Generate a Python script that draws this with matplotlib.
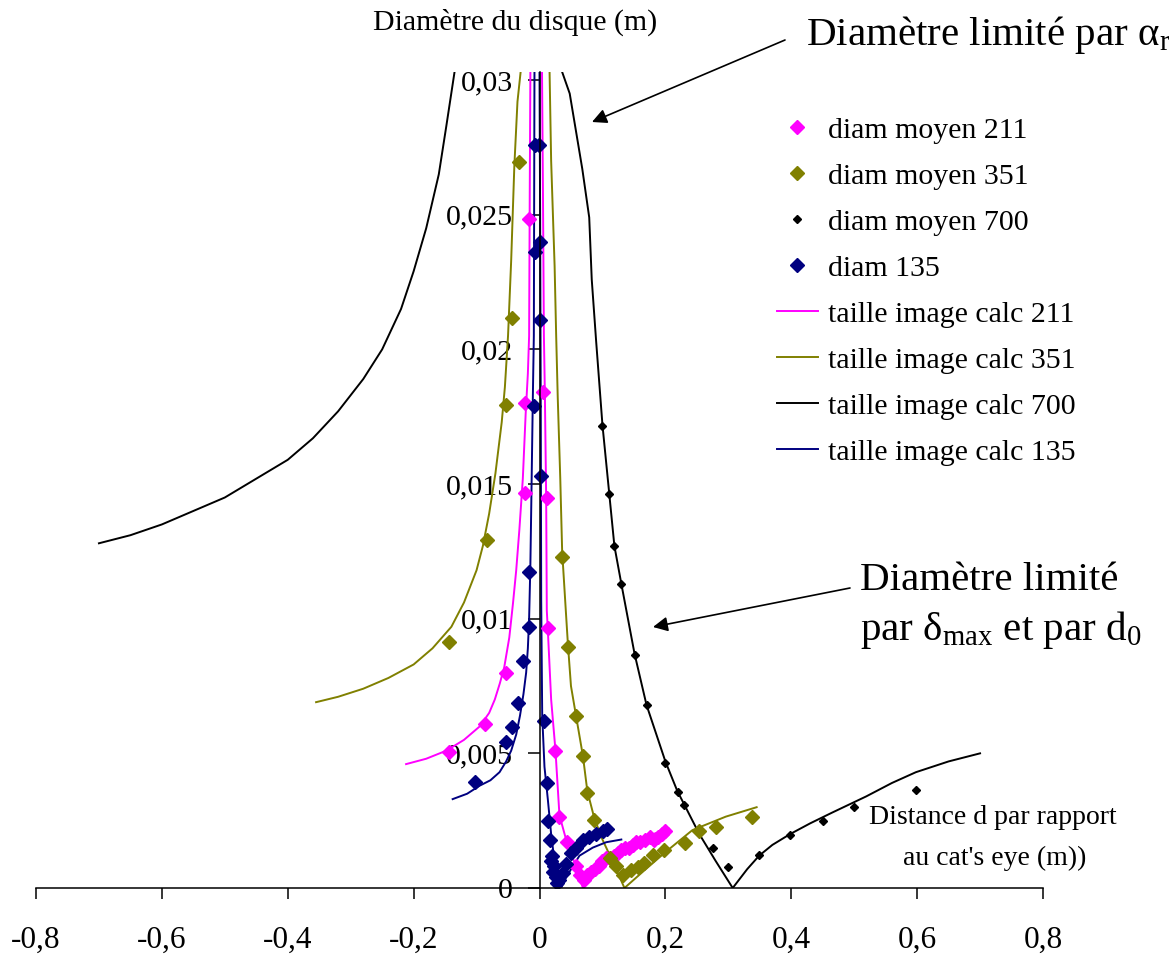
import matplotlib
matplotlib.use("Agg")
import matplotlib.pyplot as plt
import numpy as np

plt.rcParams['font.family'] = ['Liberation Serif', 'DejaVu Serif']
plt.rcParams['mathtext.fontset'] = 'custom'
plt.rcParams['mathtext.rm'] = 'Liberation Serif'
plt.rcParams['mathtext.it'] = 'Liberation Serif'
plt.rcParams['mathtext.default'] = 'regular'

# --- données ---
# courbes calculées (branche gauche / branche droite)
x_calc_211_g = [-0.212, -0.180, -0.148, -0.120, -0.095, -0.080, -0.071, -0.063, -0.056, -0.048, -0.042, -0.037, -0.032, -0.0265, -0.022, -0.0185, -0.0165, -0.0155, -0.0145]
y_calc_211_g = [0.0046, 0.0048, 0.0051, 0.0055, 0.0060, 0.0065, 0.0070, 0.0076, 0.0082, 0.0093, 0.0106, 0.0118, 0.0133, 0.0152, 0.0176, 0.0191, 0.0205, 0.0258, 0.0303]
x_calc_211_d = [0.0040, 0.0055, 0.0070, 0.0085, 0.0106, 0.0116, 0.0132, 0.0185, 0.0254, 0.0317, 0.0434, 0.058, 0.069, 0.079, 0.095, 0.116, 0.150, 0.180, 0.206]
y_calc_211_d = [0.0303, 0.0258, 0.0205, 0.0184, 0.0145, 0.0103, 0.0096, 0.0070, 0.0051, 0.0027, 0.0017, 0.0008, 0.0000, 0.00045, 0.0009, 0.0012, 0.0017, 0.0020, 0.0022]

x_calc_351_g = [-0.355, -0.32, -0.28, -0.24, -0.20, -0.17, -0.14, -0.12, -0.10, -0.09, -0.08, -0.07, -0.06, -0.055, -0.050, -0.045, -0.040, -0.035, -0.030]
y_calc_351_g = [0.0069, 0.0071, 0.0074, 0.0078, 0.0083, 0.0089, 0.0097, 0.0106, 0.0118, 0.0127, 0.0139, 0.0154, 0.0173, 0.0186, 0.0205, 0.0233, 0.0268, 0.0292, 0.0303]
x_calc_351_d = [0.016, 0.0185, 0.024, 0.0265, 0.029, 0.033, 0.036, 0.041, 0.045, 0.050, 0.058, 0.069, 0.076, 0.087, 0.100, 0.116, 0.135, 0.164, 0.201, 0.243, 0.296, 0.345]
y_calc_351_d = [0.0303, 0.0270, 0.0231, 0.0205, 0.0182, 0.0152, 0.0125, 0.0106, 0.0091, 0.0075, 0.0064, 0.0049, 0.0036, 0.0026, 0.0018, 0.0010, 0.0000, 0.0006, 0.00135, 0.00215, 0.00265, 0.0030]

x_calc_700_g = [-0.70, -0.65, -0.60, -0.55, -0.50, -0.45, -0.40, -0.36, -0.32, -0.28, -0.25, -0.22, -0.20, -0.18, -0.16, -0.148, -0.135]
y_calc_700_g = [0.0128, 0.0131, 0.0135, 0.0140, 0.0145, 0.0152, 0.0159, 0.0167, 0.0177, 0.0189, 0.0200, 0.0215, 0.0229, 0.0245, 0.0265, 0.0283, 0.0303]
x_calc_700_d = [0.036, 0.048, 0.068, 0.079, 0.083, 0.090, 0.100, 0.111, 0.119, 0.130, 0.151, 0.170, 0.200, 0.219, 0.230, 0.254, 0.280, 0.307,
                0.330, 0.349, 0.370, 0.398, 0.430, 0.465, 0.519, 0.560, 0.598, 0.650, 0.700]
y_calc_700_d = [0.0303, 0.0295, 0.0267, 0.0249, 0.0226, 0.0203, 0.0172, 0.0146, 0.0127, 0.0113, 0.0087, 0.0068, 0.0047, 0.0036, 0.0031, 0.0020, 0.0010, 0.0000,
                0.0007, 0.0012, 0.0016, 0.0020, 0.0024, 0.0028, 0.0034, 0.0039, 0.0043, 0.0047, 0.0050]

x_calc_135_g = [-0.138, -0.115, -0.095, -0.078, -0.0635, -0.053, -0.045, -0.037, -0.031, -0.0255, -0.0212, -0.0185, -0.0165, -0.0145, -0.0132, -0.0106, -0.009, -0.008]
y_calc_135_g = [0.0033, 0.0035, 0.0038, 0.0040, 0.0043, 0.0047, 0.0051, 0.0057, 0.0064, 0.0072, 0.0080, 0.0089, 0.0100, 0.0120, 0.0140, 0.0182, 0.0205, 0.0303]
x_calc_135_d = [0.000, 0.001, 0.002, 0.0027, 0.0043, 0.0079, 0.0132, 0.0185, 0.0238, 0.0344, 0.0423, 0.0635, 0.0847, 0.106, 0.130]
y_calc_135_d = [0.0303, 0.0250, 0.0180, 0.0107, 0.0064, 0.0045, 0.0033, 0.0020, 0.0010, 0.0000, 0.0004, 0.0012, 0.0015, 0.0017, 0.0018]

# mesures (diamètres moyens)
x_mes_211 = [-0.143, -0.0873, -0.054, -0.0238, -0.0238, -0.017, 0.0063, 0.0116, 0.0132, 0.0254, 0.0317, 0.0434,
             0.058, 0.064, 0.070, 0.076, 0.082, 0.088, 0.094, 0.100, 0.106, 0.112, 0.118, 0.124, 0.130, 0.136,
             0.142, 0.148, 0.154, 0.160, 0.168, 0.176, 0.182, 0.188, 0.195, 0.200]
y_mes_211 = [0.00506, 0.00609, 0.0080, 0.01468, 0.0180, 0.02486, 0.01843, 0.01447, 0.00964, 0.0051, 0.00265, 0.00172,
             0.0008, 0.0005, 0.0003, 0.0005, 0.0006, 0.0007, 0.0008, 0.0010, 0.0011, 0.0011, 0.0012, 0.0013, 0.0014, 0.0015,
             0.0015, 0.0016, 0.0017, 0.0017, 0.0018, 0.0019, 0.0018, 0.0019, 0.0020, 0.0021]

x_mes_351 = [-0.143, -0.083, -0.0529, -0.0434, -0.0333, 0.036, 0.045, 0.0582, 0.0688, 0.0757, 0.0873,
             0.112, 0.121, 0.132, 0.1455, 0.156, 0.1667, 0.180, 0.1984, 0.2317, 0.254, 0.2804, 0.337]
y_mes_351 = [0.00915, 0.01292, 0.01793, 0.02115, 0.02697, 0.0123, 0.00896, 0.00639, 0.0049, 0.00354, 0.00252,
             0.0011, 0.0008, 0.00048, 0.00067, 0.00079, 0.00091, 0.00122, 0.00141, 0.00166, 0.00212, 0.00225, 0.00265]

x_mes_700 = [0.0995, 0.111, 0.119, 0.1297, 0.151, 0.171, 0.1995, 0.2206, 0.230, 0.2757, 0.299, 0.349, 0.398, 0.451, 0.499, 0.599]
y_mes_700 = [0.01717, 0.01462, 0.01271, 0.01128, 0.00865, 0.00679, 0.00465, 0.00358, 0.00308, 0.00147, 0.00079, 0.00122, 0.00197, 0.00249, 0.00300, 0.00364]

x_mes_135 = [-0.1032, -0.0529, -0.0434, -0.0344, -0.0265, -0.017, -0.017, -0.009, -0.0069, -0.0079, -0.001, 0.000, 0.000, 0.0027,
             0.0079, 0.0122, 0.0132, 0.0159, 0.0185, 0.020, 0.022, 0.0238, 0.0265, 0.028, 0.0317, 0.037, 0.0423, 0.050,
             0.058, 0.0688, 0.079, 0.0899, 0.1005, 0.108]
y_mes_135 = [0.00395, 0.00543, 0.00599, 0.00686, 0.00844, 0.0097, 0.01174, 0.0179, 0.0236, 0.0276, 0.0276, 0.0240, 0.0211, 0.0153,
             0.0062, 0.0039, 0.0025, 0.0018, 0.0010, 0.0012, 0.0006, 0.0008, 0.0004, 0.0002, 0.0003, 0.00055, 0.0009, 0.0013,
             0.0015, 0.0018, 0.0019, 0.0020, 0.0021, 0.0022]

x_ticks = [-0.8, -0.6, -0.4, -0.2, 0, 0.2, 0.4, 0.6, 0.8]
x_labels = ['-0,8', '-0,6', '-0,4', '-0,2', '0', '0,2', '0,4', '0,6', '0,8']
y_ticks = [0, 0.005, 0.01, 0.015, 0.02, 0.025, 0.03]
y_labels = ['0', '0,005', '0,01', '0,015', '0,02', '0,025', '0,03']

magenta, olive, navy = '#FF00FF', '#808000', '#000080'

fig = plt.figure(figsize=(11.69, 9.58), dpi=100)
ax = fig.add_axes([36 / 1169, 70 / 958, 1007 / 1169, 816 / 958])

lw = 1.4
ax.plot(x_calc_211_g, y_calc_211_g, color=magenta, lw=lw)
ax.plot(x_calc_351_g, y_calc_351_g, color=olive, lw=lw)
ax.plot(x_calc_700_g, y_calc_700_g, color='black', lw=lw)
ax.plot(x_calc_135_g, y_calc_135_g, color=navy, lw=lw)
l211, = ax.plot(x_calc_211_d, y_calc_211_d, color=magenta, lw=lw, label='taille image calc 211')
l351, = ax.plot(x_calc_351_d, y_calc_351_d, color=olive, lw=lw, label='taille image calc 351')
l700, = ax.plot(x_calc_700_d, y_calc_700_d, color='black', lw=lw, label='taille image calc 700')
l135, = ax.plot(x_calc_135_d, y_calc_135_d, color=navy, lw=lw, label='taille image calc 135')

ms = 6.8
m211, = ax.plot(x_mes_211, y_mes_211, 'D', color=magenta, ms=ms, ls='none', label='diam moyen 211')
m351, = ax.plot(x_mes_351, y_mes_351, 'D', color=olive, ms=ms, ls='none', label='diam moyen 351')
m700, = ax.plot(x_mes_700, y_mes_700, 'D', color='black', ms=4, ls='none', label='diam moyen 700')
m135, = ax.plot(x_mes_135, y_mes_135, 'D', color=navy, ms=ms, ls='none', label='diam 135')

ax.set_xlim(-0.8, 0.8)
ax.set_ylim(0, 0.0303)
for s in ['top', 'right']:
    ax.spines[s].set_visible(False)
ax.spines['left'].set_position(('data', 0))
ax.spines['left'].set_linewidth(1.1)
ax.spines['bottom'].set_linewidth(1.1)
ax.set_xticks(x_ticks)
ax.set_xticklabels(x_labels, fontsize=22.5)
ax.set_yticks(y_ticks)
ax.set_yticklabels(y_labels, fontsize=21.5)
ax.tick_params(axis='x', direction='out', length=8, width=1.1, pad=19)
ax.tick_params(axis='y', direction='out', length=9, width=1.1, pad=10)

ax.legend(handles=[m211, m351, m700, m135, l211, l351, l700, l135],
          loc='upper left', bbox_to_anchor=(777 / 1169, 0.878), bbox_transform=fig.transFigure,
          frameon=False, fontsize=21.5, handlelength=1.37, handletextpad=0.33,
          labelspacing=0.64, borderpad=0, borderaxespad=0)

fig.text(515 / 1169, 1 - 22 / 958, 'Diamètre du disque (m)', fontsize=21.5, ha='center', va='center')
fig.text(993 / 1169, 1 - 818 / 958, 'Distance d par rapport', fontsize=20, ha='center', va='center')
fig.text(995 / 1169, 1 - 858 / 958, "au cat's eye (m))", fontsize=20, ha='center', va='center')

fig.text(806 / 1169, 1 - 45 / 958, r'Diamètre limité par $\alpha_{r}$', fontsize=29.5, ha='left', va='baseline')
fig.text(860 / 1169, 1 - 590 / 958, 'Diamètre limité', fontsize=29.5, ha='left', va='baseline')
fig.text(860 / 1169, 1 - 640 / 958, r'par $\delta_{max}$ et par $d_{0}$', fontsize=29.5, ha='left', va='baseline')

arrow = dict(arrowstyle='-|>', color='black', lw=1.2, mutation_scale=22, shrinkA=0, shrinkB=0)
ax.annotate('', xy=(592 / 1169, 1 - 122 / 958), xytext=(785 / 1169, 1 - 40 / 958),
            xycoords='figure fraction', textcoords='figure fraction', arrowprops=arrow)
ax.annotate('', xy=(653 / 1169, 1 - 627 / 958), xytext=(850 / 1169, 1 - 588 / 958),
            xycoords='figure fraction', textcoords='figure fraction', arrowprops=arrow)

fig.savefig('out.png', dpi=100)
